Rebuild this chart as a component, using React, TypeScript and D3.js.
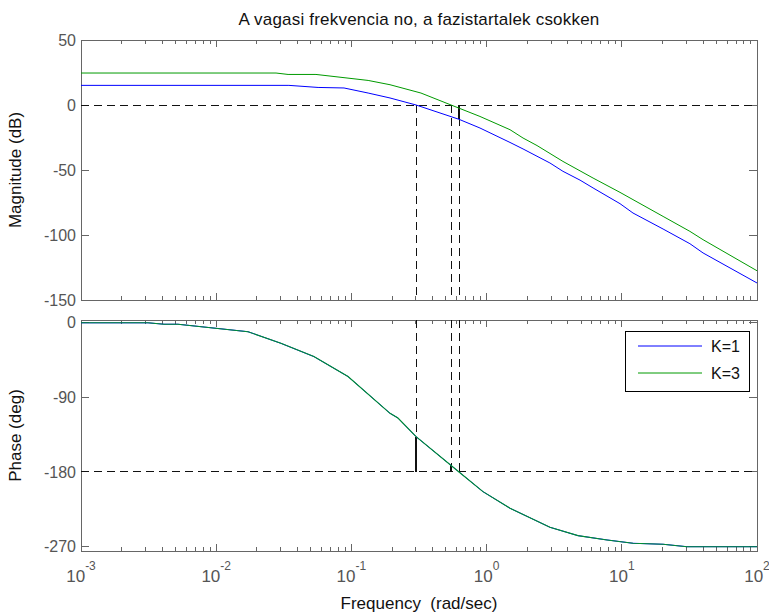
import React from "react";
import * as d3 from "d3";

// bode plot (margin) for K=1 and K=3
const seriesNames = ["K=1", "K=3"];
const seriesColors = ["#0000ff", "#009a00"];

const magK1Freq = [0.001, 0.0345, 0.0567, 0.0882, 0.133, 0.193, 0.301, 0.625, 0.893, 1.49, 1.86, 2.94, 3.67, 4.91, 6.13, 9.7, 12.1, 20.2, 31.9, 39.9, 100];
const magK1Db = [15.1, 15.1, 13.5, 13.1, 9.2, 5.4, 0, -11, -17.7, -28.8, -33.8, -44.6, -51, -57.8, -63.8, -75.9, -83.1, -95.4, -106.7, -113.8, -136.9];

const magK3Freq = [0.001, 0.0277, 0.034, 0.0547, 0.133, 0.193, 0.327, 0.546, 0.893, 1.49, 1.86, 2.36, 3.67, 6.13, 9.7, 12.1, 20.2, 31.9, 39.9, 100];
const magK3Db = [24.6, 24.6, 23.5, 23.5, 18.9, 15.6, 9.2, 0, -8.8, -19, -25.4, -31.2, -43.4, -56.2, -67.2, -72.8, -85.7, -97.2, -103.6, -127.5];

// phase is the same for both gains
const phaseFreq = [0.001, 0.00313, 0.00411, 0.00521, 0.0172, 0.0301, 0.0528, 0.0944, 0.193, 0.221, 0.301, 0.625, 0.94, 1.49, 2.94, 4.74, 7.78, 12.1, 20.2, 30.3, 100];
const phaseDeg = [-0.3, -0.3, -2, -2, -11, -25, -41, -65, -109.3, -115, -137.5, -180, -203.7, -223.7, -246.6, -256.7, -261.9, -265.9, -267.1, -270, -270];

// stability margins
const gainCrossFreq = [0.301, 0.546];
const phaseAtGainCross = [-137.5, -172.1];
const phaseCrossFreq = 0.625;
const magAtPhaseCross = [-11, -1.5];

const magTicks = [50, 0, -50, -100, -150];
const phaseTicks = [0, -90, -180, -270];
const decades = [-3, -2, -1, 0, 1, 2];

const W = 769;
const H = 614;
const left = 81;
const right = 757;
const magTop = 40;
const magBottom = 300;
const phTop = 320;
const phBottom = 551;

const axisColor = "#666";
const labelColor = "#555";
const font = "'Liberation Sans', Arial, Helvetica, sans-serif";

export default function App() {
  const x = d3.scaleLog().domain([1e-3, 1e2]).range([left, right]);
  const yMag = d3.scaleLinear().domain([-150, 50]).range([magBottom, magTop]);
  const yPh = d3.scaleLinear().domain([-275.2, 3.1]).range([phBottom, phTop]);

  const minorTicks: number[] = [];
  decades.slice(0, -1).forEach((k) => {
    for (let m = 2; m <= 9; m++) minorTicks.push(m * Math.pow(10, k));
  });

  const line = (fs: number[], vs: number[], y: d3.ScaleLinear<number, number>) =>
    d3.line<number>()
      .x((_, i) => x(fs[i]))
      .y((v) => y(v))(vs) || "";

  const frame = (top: number, bottom: number, y: d3.ScaleLinear<number, number>, ticks: number[]) => (
    <g shapeRendering="crispEdges">
      <rect x={left} y={top} width={right - left} height={bottom - top} fill="white" stroke={axisColor} strokeWidth={1} />
      {decades.map((k) => {
        const px = x(Math.pow(10, k));
        return (
          <g key={"M" + k} stroke={axisColor}>
            <line x1={px} x2={px} y1={top} y2={top + 7} />
            <line x1={px} x2={px} y1={bottom} y2={bottom - 7} />
          </g>
        );
      })}
      {minorTicks.map((f, i) => {
        const px = x(f);
        return (
          <g key={"m" + i} stroke={axisColor}>
            <line x1={px} x2={px} y1={top} y2={top + 4} />
            <line x1={px} x2={px} y1={bottom} y2={bottom - 4} />
          </g>
        );
      })}
      {ticks.map((t) => (
        <g key={"y" + t}>
          <line x1={left} x2={left + 8} y1={y(t)} y2={y(t)} stroke={axisColor} />
          <line x1={right} x2={right - 8} y1={y(t)} y2={y(t)} stroke={axisColor} />
          <text x={left - 5} y={y(t)} dy="0.35em" textAnchor="end" fontSize={16} fill={labelColor}>
            {t}
          </text>
        </g>
      ))}
    </g>
  );

  const dash = "8,5";

  return (
    <svg width={W} height={H} style={{ position: "absolute", left: 0, top: 0, fontFamily: font }}>
      <rect width={W} height={H} fill="white" />
      <text x={(left + right) / 2} y={25} textAnchor="middle" fontSize={17} letterSpacing={0.2} fill="#111">
        A vagasi frekvencia no, a fazistartalek csokken
      </text>

      {frame(magTop, magBottom, yMag, magTicks)}
      {frame(phTop, phBottom, yPh, phaseTicks)}

      {/* magnitude panel margin lines */}
      <g stroke="#111" strokeWidth={1} shapeRendering="crispEdges">
        <line x1={left} x2={right} y1={yMag(0)} y2={yMag(0)} strokeDasharray={dash} />
        {[...gainCrossFreq, phaseCrossFreq].map((f, i) => (
          <line key={i} x1={x(f)} x2={x(f)} y1={yMag(0)} y2={magBottom} strokeDasharray={dash} />
        ))}
        {magAtPhaseCross.map((m, i) => (
          <line key={"gm" + i} x1={x(phaseCrossFreq)} x2={x(phaseCrossFreq)} y1={yMag(0)} y2={yMag(m)} strokeWidth={1.5} />
        ))}
      </g>
      <path d={line(magK1Freq, magK1Db, yMag)} fill="none" stroke={seriesColors[0]} strokeWidth={1} />
      <path d={line(magK3Freq, magK3Db, yMag)} fill="none" stroke={seriesColors[1]} strokeWidth={1} />

      {/* phase panel margin lines */}
      <g stroke="#111" strokeWidth={1} shapeRendering="crispEdges">
        <line x1={left} x2={right} y1={yPh(-180)} y2={yPh(-180)} strokeDasharray={dash} />
        {[...gainCrossFreq, phaseCrossFreq].map((f, i) => (
          <line key={i} x1={x(f)} x2={x(f)} y1={phTop} y2={yPh(-180)} strokeDasharray={dash} />
        ))}
        {gainCrossFreq.map((f, i) => (
          <line key={"pm" + i} x1={x(f)} x2={x(f)} y1={yPh(-180)} y2={yPh(phaseAtGainCross[i])} strokeWidth={1.5} />
        ))}
      </g>
      <path d={line(phaseFreq, phaseDeg, yPh)} fill="none" stroke={seriesColors[0]} strokeWidth={1} />
      <path d={line(phaseFreq, phaseDeg, yPh)} fill="none" stroke="#009030" strokeWidth={1.1} />

      {/* x tick labels */}
      {decades.map((k) => (
        <text key={"xl" + k} x={x(Math.pow(10, k))} y={582} textAnchor="middle" fontSize={17} fill={labelColor}>
          <tspan>10</tspan>
          <tspan dy={-12} fontSize={12}>{k}</tspan>
        </text>
      ))}

      <text x={(left + right) / 2} y={609} textAnchor="middle" fontSize={17} fill="#111" xmlSpace="preserve">
        Frequency  (rad/sec)
      </text>
      <text transform={`translate(21,${(magTop + magBottom) / 2}) rotate(-90)`} textAnchor="middle" fontSize={17} fill="#111">
        Magnitude (dB)
      </text>
      <text transform={`translate(21,${(phTop + phBottom) / 2}) rotate(-90)`} textAnchor="middle" fontSize={17} fill="#111">
        Phase (deg)
      </text>

      {/* legend */}
      <g>
        <rect x={625.5} y={331.5} width={124} height={60} fill="white" stroke="#000" strokeWidth={1} />
        {seriesNames.map((name, i) => (
          <g key={name}>
            <line x1={638} x2={702} y1={346 + i * 27} y2={346 + i * 27} stroke={seriesColors[i]} strokeWidth={1} />
            <text x={711} y={346 + i * 27} dy="0.38em" fontSize={16} fill="#111">
              {name}
            </text>
          </g>
        ))}
      </g>
    </svg>
  );
}
